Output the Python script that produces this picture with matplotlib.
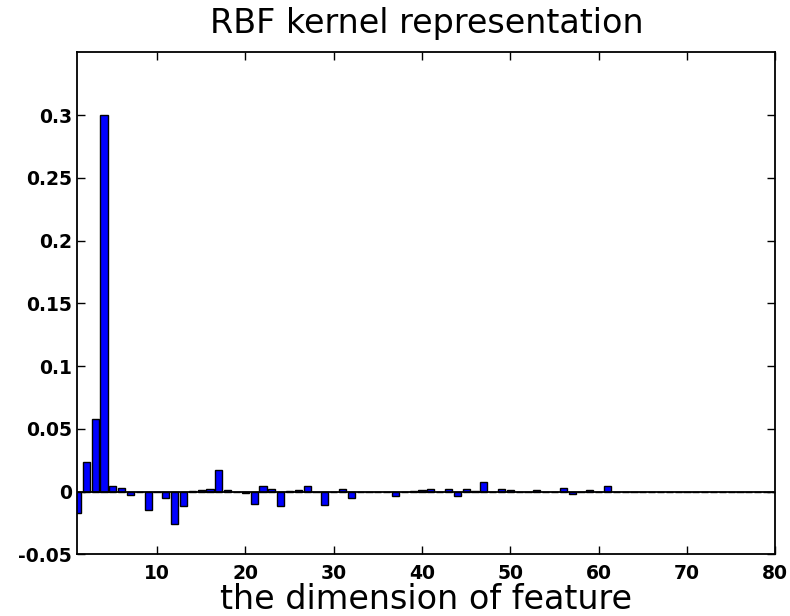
import numpy as np
import matplotlib
matplotlib.use('Agg')
import matplotlib.pyplot as plt

# feature index and its weight in the RBF kernel representation
dims = list(range(1, 81))
weights = [
    -0.0167, 0.0239, 0.0580, 0.3000, 0.0042, 0.0030, -0.0028, 0.0, -0.0148, 0.0,
    -0.0048, -0.0255, -0.0112, 0.0004, 0.0013, 0.0024, 0.0172, 0.0012, 0.0, -0.0013,
    -0.0100, 0.0047, 0.0022, -0.0116, 0.0005, 0.0010, 0.0045, 0.0, -0.0106, 0.0,
    0.0021, -0.0048, 0.0, 0.0, 0.0, 0.0, -0.0035, 0.0, 0.0008, 0.0010,
    0.0021, 0.0, 0.0021, -0.0035, 0.0021, 0.0005, 0.0080, 0.0, 0.0021, 0.0010,
    0.0, 0.0, 0.0010, 0.0, 0.0, 0.0032, -0.0019, 0.0, 0.0010, 0.0,
    0.0045, 0.0, 0.0, 0.0, 0.0, 0.0, 0.0, 0.0, 0.0, 0.0,
    0.0, 0.0, 0.0, 0.0, 0.0, 0.0, 0.0, 0.0, 0.0, 0.0,
]

xticks = [10, 20, 30, 40, 50, 60, 70, 80]
yticks = [-0.05, 0, 0.05, 0.1, 0.15, 0.2, 0.25, 0.3]
ytick_labels = ['-0.05', '0', '0.05', '0.1', '0.15', '0.2', '0.25', '0.3']

title = 'RBF kernel representation'
xlabel = 'the dimension of feature'


def main():
    fig = plt.figure(figsize=(7.9, 6.16), dpi=100)
    ax = fig.add_axes([0.0981, 0.1, 0.8833, 0.8148])

    ax.bar(dims, weights, width=0.8, color='#0000ff', edgecolor='black',
           linewidth=1.0, zorder=2)
    ax.axhline(0, color='black', linewidth=1.3, zorder=3)

    ax.set_xlim(1, 80)
    ax.set_ylim(-0.05, 0.35)
    ax.set_xticks(xticks)
    ax.set_yticks(yticks)
    ax.set_yticklabels(ytick_labels)

    tick_font = dict(family='DejaVu Sans', weight='bold', size=13.5)
    for lbl in ax.get_xticklabels() + ax.get_yticklabels():
        lbl.set_fontproperties(matplotlib.font_manager.FontProperties(**tick_font))

    ax.tick_params(direction='in', length=6, width=1.0, top=True, right=True)
    ax.tick_params(axis='x', pad=7)
    ax.tick_params(axis='y', pad=4)
    for sp in ax.spines.values():
        sp.set_linewidth(1.3)

    ax.set_title(title, fontsize=24, family='DejaVu Sans', weight='medium', pad=14)
    ax.set_xlabel(xlabel, fontsize=24, family='DejaVu Sans', labelpad=0)

    fig.savefig('out.png', dpi=100, facecolor='white')
    plt.close(fig)


if __name__ == '__main__':
    main()
